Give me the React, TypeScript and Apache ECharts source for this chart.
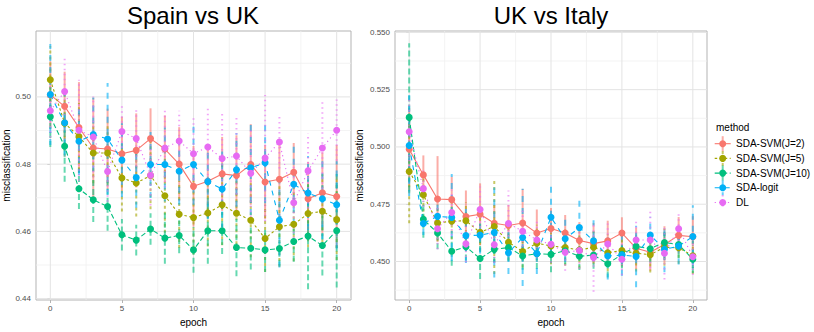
import React, { useEffect, useRef } from "react";
import * as echarts from "echarts";

const epochs = [0, 1, 2, 3, 4, 5, 6, 7, 8, 9, 10, 11, 12, 13, 14, 15, 16, 17, 18, 19, 20];
const methods = ["SDA-SVM(J=2)", "SDA-SVM(J=5)", "SDA-SVM(J=10)", "SDA-logit", "DL"];
const colors = ["#F8766D", "#A3A500", "#00BF7D", "#00B0F6", "#E76BF3"];
const panelTitles = ["Spain vs UK", "UK vs Italy"];

// Spain vs UK — means
const spainJ2 = [0.5006, 0.4972, 0.4909, 0.4848, 0.4845, 0.4831, 0.4841, 0.4876, 0.4845, 0.4800, 0.4734, 0.4749, 0.4771, 0.4766, 0.4799, 0.4747, 0.4755, 0.4776, 0.4697, 0.4715, 0.4704];
const spainJ5 = [0.5051, 0.4922, 0.4882, 0.4833, 0.4833, 0.4759, 0.4744, 0.4766, 0.4706, 0.4651, 0.4641, 0.4655, 0.4679, 0.4654, 0.4633, 0.4579, 0.4614, 0.4621, 0.4653, 0.4660, 0.4635];
const spainJ10 = [0.4941, 0.4853, 0.4727, 0.4694, 0.4674, 0.4590, 0.4574, 0.4607, 0.4580, 0.4588, 0.4545, 0.4602, 0.4602, 0.4552, 0.4550, 0.4545, 0.4549, 0.4570, 0.4586, 0.4558, 0.4602];
const spainLogit = [0.5007, 0.4923, 0.4868, 0.4888, 0.4875, 0.4812, 0.4760, 0.4799, 0.4799, 0.4779, 0.4799, 0.4748, 0.4726, 0.4783, 0.4789, 0.4804, 0.4633, 0.4740, 0.4714, 0.4697, 0.4679];
const spainDL = [0.4959, 0.5016, 0.4901, 0.4881, 0.4778, 0.4897, 0.4876, 0.4767, 0.4848, 0.4869, 0.4831, 0.4851, 0.4817, 0.4824, 0.4773, 0.4818, 0.4866, 0.4685, 0.4780, 0.4848, 0.4901];
// Spain vs UK — error half-widths
const spainJ2Err = [0.010, 0.0103, 0.0135, 0.0150, 0.012, 0.011, 0.011, 0.009, 0.010, 0.011, 0.012, 0.011, 0.011, 0.012, 0.012, 0.011, 0.012, 0.0087, 0.011, 0.012, 0.0153];
const spainJ5Err = [0.010, 0.010, 0.010, 0.009, 0.009, 0.010, 0.010, 0.010, 0.011, 0.010, 0.011, 0.010, 0.012, 0.011, 0.011, 0.010, 0.012, 0.011, 0.010, 0.011, 0.012];
const spainJ10Err = [0.009, 0.0105, 0.006, 0.0066, 0.0072, 0.0047, 0.0046, 0.0047, 0.0076, 0.0053, 0.0068, 0.0098, 0.0069, 0.0085, 0.0063, 0.0066, 0.0051, 0.006, 0.0158, 0.0089, 0.0169];
const spainLogitErr = [0.015, 0.010, 0.010, 0.011, 0.0166, 0.011, 0.009, 0.010, 0.011, 0.010, 0.012, 0.011, 0.012, 0.011, 0.014, 0.012, 0.014, 0.012, 0.011, 0.012, 0.013];
const spainDLErr = [0.008, 0.010, 0.015, 0.012, 0.009, 0.0078, 0.0084, 0.009, 0.0117, 0.009, 0.0107, 0.0114, 0.014, 0.0114, 0.013, 0.0188, 0.0079, 0.012, 0.0112, 0.0136, 0.0091];

// UK vs Italy — means
const italyJ2 = [0.4990, 0.4878, 0.4773, 0.4770, 0.4696, 0.4706, 0.4667, 0.4657, 0.4668, 0.4624, 0.4644, 0.4624, 0.4592, 0.4578, 0.4590, 0.4624, 0.4558, 0.4540, 0.4574, 0.4614, 0.4608];
const italyJ5 = [0.4893, 0.4791, 0.4668, 0.4676, 0.4678, 0.4627, 0.4653, 0.4584, 0.4544, 0.4580, 0.4568, 0.4561, 0.4550, 0.4562, 0.4538, 0.4548, 0.4536, 0.4530, 0.4562, 0.4560, 0.4525];
const italyJ10 = [0.5129, 0.4684, 0.4624, 0.4545, 0.4564, 0.4513, 0.4553, 0.4561, 0.4524, 0.4534, 0.4531, 0.4547, 0.4523, 0.4528, 0.4490, 0.4531, 0.4566, 0.4556, 0.4583, 0.4574, 0.4510];
const italyLogit = [0.5006, 0.4666, 0.4697, 0.4692, 0.4613, 0.4615, 0.4627, 0.4538, 0.4605, 0.4535, 0.4693, 0.4599, 0.4648, 0.4590, 0.4524, 0.4528, 0.4522, 0.4615, 0.4553, 0.4567, 0.4609];
const italyDL = [0.5066, 0.4818, 0.4643, 0.4714, 0.4577, 0.4727, 0.4573, 0.4666, 0.4632, 0.4594, 0.4575, 0.4540, 0.4548, 0.4518, 0.4576, 0.4510, 0.4594, 0.4594, 0.4536, 0.4643, 0.4521];
// UK vs Italy — error half-widths
const italyJ2Err = [0.018, 0.0085, 0.0187, 0.010, 0.0114, 0.0135, 0.008, 0.009, 0.0149, 0.0103, 0.009, 0.0079, 0.008, 0.009, 0.0088, 0.0069, 0.009, 0.008, 0.008, 0.008, 0.009];
const italyJ5Err = [0.0226, 0.010, 0.008, 0.008, 0.008, 0.008, 0.0208, 0.008, 0.007, 0.008, 0.008, 0.008, 0.008, 0.007, 0.008, 0.007, 0.008, 0.0078, 0.008, 0.007, 0.008];
const italyJ10Err = [0.0324, 0.008, 0.007, 0.0064, 0.006, 0.0089, 0.006, 0.006, 0.006, 0.0067, 0.0078, 0.006, 0.006, 0.006, 0.006, 0.006, 0.006, 0.006, 0.006, 0.006, 0.006];
const italyLogitErr = [0.022, 0.005, 0.008, 0.019, 0.012, 0.008, 0.0197, 0.0093, 0.0212, 0.009, 0.0155, 0.010, 0.0119, 0.009, 0.0103, 0.009, 0.0134, 0.008, 0.010, 0.008, 0.0136];
const italyDLErr = [0.015, 0.008, 0.009, 0.010, 0.008, 0.010, 0.008, 0.0144, 0.009, 0.008, 0.008, 0.008, 0.008, 0.015, 0.009, 0.007, 0.008, 0.0123, 0.0115, 0.0074, 0.008];

// ticks
const xTicks = [0, 5, 10, 15, 20];
const xMinorTicks = [2.5, 7.5, 12.5, 17.5];
const leftYTicks = [0.44, 0.46, 0.48, 0.5];
const leftYMinorTicks = [0.45, 0.47, 0.49, 0.51];
const rightYTicks = [0.45, 0.475, 0.5, 0.525, 0.55];
const rightYMinorTicks = [0.4375, 0.4625, 0.4875, 0.5125, 0.5375];

const FONT = "Liberation Sans, Arial, Helvetica, sans-serif";
const dashes: (number[] | null)[] = [null, [2.5, 2.5], [5, 2.5], [5, 5], [1.2, 3.2]];
const barDashes: (number[] | null)[] = [null, [3, 3], [6, 3], [6, 6], [1.5, 3.5]];

const panels = [
  {
    means: [spainJ2, spainJ5, spainJ10, spainLogit, spainDL],
    errs: [spainJ2Err, spainJ5Err, spainJ10Err, spainLogitErr, spainDLErr],
    yTicks: leftYTicks,
    yMinor: leftYMinorTicks,
    yMin: 0.4396,
    yMax: 0.5196,
    decimals: 2,
    grid: { left: 35, top: 31, width: 316, height: 274 },
    nameGap: 25,
  },
  {
    means: [italyJ2, italyJ5, italyJ10, italyLogit, italyDL],
    errs: [italyJ2Err, italyJ5Err, italyJ10Err, italyLogitErr, italyDLErr],
    yTicks: rightYTicks,
    yMinor: rightYMinorTicks,
    yMin: 0.4332,
    yMax: 0.5506,
    decimals: 3,
    grid: { left: 395, top: 31, width: 312, height: 274 },
    nameGap: 31,
  },
];

function buildOption() {
  const grids: any[] = [];
  const xAxes: any[] = [];
  const yAxes: any[] = [];
  const series: any[] = [];
  const graphics: any[] = [];

  panels.forEach((p, pi) => {
    grids.push({
      ...p.grid,
      show: true,
      backgroundColor: "#ffffff",
      borderColor: "#b3b3b3",
      borderWidth: 1,
    });
    xAxes.push({
      type: "value",
      gridIndex: pi,
      min: -1,
      max: 21,
      splitLine: { show: false },
      axisLine: { show: false },
      axisTick: { show: true, customValues: xTicks, length: 3, lineStyle: { color: "#b3b3b3" } },
      axisLabel: { customValues: xTicks, fontSize: 8, color: "#4d4d4d", margin: 4, fontFamily: FONT },
      name: "epoch",
      nameLocation: "middle",
      nameGap: 17,
      nameTextStyle: { fontSize: 10, color: "#000", fontFamily: FONT },
    });
    yAxes.push({
      type: "value",
      gridIndex: pi,
      min: p.yMin,
      max: p.yMax,
      splitLine: { show: false },
      axisLine: { show: false },
      axisTick: { show: true, customValues: p.yTicks, length: 3, lineStyle: { color: "#b3b3b3" } },
      axisLabel: {
        customValues: p.yTicks,
        fontSize: 8,
        color: "#4d4d4d",
        margin: 5,
        fontFamily: FONT,
        formatter: (v: number) => v.toFixed(p.decimals),
      },
      name: "misclassification",
      nameLocation: "middle",
      nameGap: p.nameGap,
      nameRotate: 90,
      nameTextStyle: { fontSize: 10, color: "#000", fontFamily: FONT },
    });

    // grid lines
    series.push({
      type: "custom",
      xAxisIndex: pi,
      yAxisIndex: pi,
      z: 1,
      silent: true,
      data: [[0, p.yTicks[1]]],
      renderItem: (params: any, api: any) => {
        const cs = params.coordSys;
        const children: any[] = [];
        const vline = (v: number, stroke: string, w: number) => {
          const c = api.coord([v, p.yTicks[1]]);
          children.push({ type: "line", shape: { x1: c[0], y1: cs.y, x2: c[0], y2: cs.y + cs.height }, style: { stroke, lineWidth: w } });
        };
        const hline = (v: number, stroke: string, w: number) => {
          const c = api.coord([0, v]);
          children.push({ type: "line", shape: { x1: cs.x, y1: c[1], x2: cs.x + cs.width, y2: c[1] }, style: { stroke, lineWidth: w } });
        };
        xMinorTicks.forEach((v) => vline(v, "#f0f0f0", 0.8));
        p.yMinor.forEach((v) => hline(v, "#f0f0f0", 0.8));
        xTicks.forEach((v) => vline(v, "#e3e3e3", 1));
        p.yTicks.forEach((v) => hline(v, "#e3e3e3", 1));
        return { type: "group", children };
      },
    });

    // error bars
    methods.forEach((m, mi) => {
      const mean = p.means[mi];
      const err = p.errs[mi];
      series.push({
        type: "custom",
        name: m,
        xAxisIndex: pi,
        yAxisIndex: pi,
        z: 2,
        silent: true,
        encode: { x: 0, y: [1, 2] },
        data: epochs.map((e, i) => [e, mean[i] - err[i], mean[i] + err[i]]),
        renderItem: (params: any, api: any) => {
          const x = api.value(0);
          const a = api.coord([x, api.value(1)]);
          const b = api.coord([x, api.value(2)]);
          return {
            type: "line",
            shape: { x1: a[0], y1: a[1], x2: b[0], y2: b[1] },
            style: { stroke: colors[mi], lineWidth: 2, lineDash: barDashes[mi] || undefined, opacity: 0.6 },
          };
        },
      });
    });

    // lines
    methods.forEach((m, mi) => {
      series.push({
        type: "line",
        name: m,
        xAxisIndex: pi,
        yAxisIndex: pi,
        z: 3,
        silent: true,
        showSymbol: false,
        symbol: "none",
        data: epochs.map((e, i) => [e, p.means[mi][i]]),
        lineStyle: { color: colors[mi], width: 1.1, type: dashes[mi] || "solid" },
      });
    });

    // points
    methods.forEach((m, mi) => {
      series.push({
        type: "scatter",
        name: m,
        xAxisIndex: pi,
        yAxisIndex: pi,
        z: 4,
        silent: true,
        symbol: "circle",
        symbolSize: 7,
        data: epochs.map((e, i) => [e, p.means[mi][i]]),
        itemStyle: { color: colors[mi], opacity: 1 },
      });
    });

    const cx = p.grid.left + p.grid.width / 2;
    graphics.push({
      type: "text",
      x: cx,
      y: 15,
      style: {
        text: panelTitles[pi],
        fontSize: 24,
        fontFamily: FONT,
        fill: "#000",
        align: "center",
        verticalAlign: "middle",
        textAlign: "center",
        textVerticalAlign: "middle",
      },
    });
  });

  // legend
  graphics.push({
    type: "text",
    x: 716,
    y: 127,
    style: { text: "method", fontSize: 10, fontFamily: FONT, fill: "#000", verticalAlign: "middle", textVerticalAlign: "middle" },
  });
  methods.forEach((m, mi) => {
    const y = 143.7 + 14.7 * mi;
    const kx = 722.7;
    graphics.push({
      type: "line",
      shape: { x1: kx, y1: y - 7.5, x2: kx, y2: y + 7.5 },
      style: { stroke: colors[mi], lineWidth: 2, opacity: 0.6, lineDash: barDashes[mi] || undefined },
    });
    graphics.push({
      type: "line",
      shape: { x1: kx - 8, y1: y, x2: kx + 8, y2: y },
      style: { stroke: colors[mi], lineWidth: 1.1, lineDash: dashes[mi] || undefined },
    });
    graphics.push({
      type: "circle",
      shape: { cx: kx, cy: y, r: 3.5 },
      style: { fill: colors[mi] },
    });
    graphics.push({
      type: "text",
      x: 736,
      y,
      style: { text: m, fontSize: 10, fontFamily: FONT, fill: "#000", verticalAlign: "middle", textVerticalAlign: "middle" },
    });
  });

  return {
    animation: false,
    backgroundColor: "#ffffff",
    textStyle: { fontFamily: FONT },
    grid: grids,
    xAxis: xAxes,
    yAxis: yAxes,
    series,
    graphic: graphics,
  };
}

export default function App() {
  const ref = useRef<HTMLDivElement>(null);
  useEffect(() => {
    document.body.style.margin = "0";
    if (!ref.current) return;
    const chart = echarts.init(ref.current, undefined, { renderer: "svg" });
    chart.setOption(buildOption() as any);
    return () => chart.dispose();
  }, []);
  return <div ref={ref} style={{ width: 814, height: 332 }} />;
}
